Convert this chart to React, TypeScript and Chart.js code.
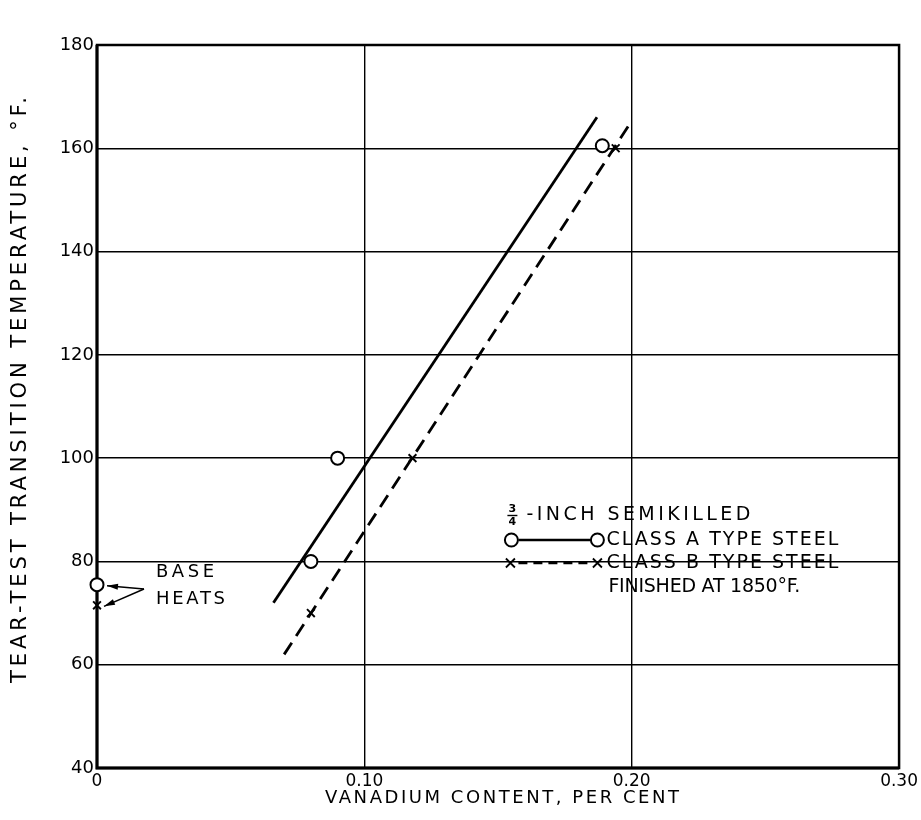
import React, { useEffect, useRef } from 'react';
import { Chart, registerables } from 'chart.js';
Chart.register(...registerables);

// ---- data ----
const classAX = [0, 0.08, 0.09, 0.189];
const classAY = [75.5, 80, 100, 160.5];
const classBX = [0, 0.08, 0.118, 0.194];
const classBY = [71.5, 70, 100, 160];
const fitAX = [0.066, 0.187];
const fitAY = [72, 166];
const fitBX = [0.07, 0.199];
const fitBY = [62, 164.5];
const xTickValues = [0, 0.1, 0.2, 0.3];
const xTickLabels = ['0', '0.10', '0.20', '0.30'];
const yTickValues = [40, 60, 80, 100, 120, 140, 160, 180];

const xTitle = 'VANADIUM CONTENT, PER CENT';
const yTitle = 'TEAR-TEST TRANSITION TEMPERATURE, °F.';
const legendHead = '-INCH SEMIKILLED';
const legendA = 'CLASS A TYPE STEEL';
const legendB = 'CLASS B TYPE STEEL';
const legendC = 'FINISHED AT 1850°F.';
const baseText = ['BASE', 'HEATS'];

const FONT = '"DejaVu Sans", "Liberation Sans", sans-serif';

const pts = (xs: number[], ys: number[]) => xs.map((x, i) => ({ x, y: ys[i] }));

function spaced(ctx: CanvasRenderingContext2D, text: string, x: number, y: number, size: number, target: number | null, align: 'left' | 'center' = 'left') {
  ctx.font = `${size}px ${FONT}`;
  (ctx as any).letterSpacing = '0px';
  const w = ctx.measureText(text).width;
  const width = target ?? w;
  const sp = target ? (target - w) / Math.max(1, text.length - 1) : 0;
  (ctx as any).letterSpacing = `${sp}px`;
  ctx.textAlign = 'left';
  ctx.textBaseline = 'middle';
  ctx.fillText(text, align === 'center' ? x - width / 2 : x, y);
  (ctx as any).letterSpacing = '0px';
}

function arrow(ctx: CanvasRenderingContext2D, x1: number, y1: number, x2: number, y2: number) {
  ctx.beginPath();
  ctx.moveTo(x1, y1);
  ctx.lineTo(x2, y2);
  ctx.stroke();
  const a = Math.atan2(y2 - y1, x2 - x1);
  const L = 11, W = 3;
  const bx = x2 - Math.cos(a) * L, by = y2 - Math.sin(a) * L;
  ctx.beginPath();
  ctx.moveTo(x2, y2);
  ctx.lineTo(bx - Math.sin(a) * W, by + Math.cos(a) * W);
  ctx.lineTo(bx + Math.sin(a) * W, by - Math.cos(a) * W);
  ctx.closePath();
  ctx.fill();
}

const framePlugin = {
  id: 'frame',
  beforeDatasetsDraw(chart: any) {
    const { ctx, chartArea: a } = chart;
    ctx.save();
    ctx.strokeStyle = '#000';
    ctx.lineWidth = 2.5;
    ctx.strokeRect(a.left, a.top, a.right - a.left, a.bottom - a.top);
    ctx.lineWidth = 3;
    ctx.beginPath();
    ctx.moveTo(a.left, a.top);
    ctx.lineTo(a.left, a.bottom);
    ctx.lineTo(a.right, a.bottom);
    ctx.stroke();
    ctx.restore();
  },
  afterDraw(chart: any) {
    const { ctx, chartArea: a, scales } = chart;
    const xs = scales.x, ys = scales.y;
    ctx.save();
    ctx.fillStyle = '#000';
    ctx.strokeStyle = '#000';
    // axis titles
    spaced(ctx, xTitle, (a.left + a.right) / 2 + 4, 798, 18, 354, 'center');
    ctx.save();
    ctx.translate(21, 390);
    ctx.rotate(-Math.PI / 2);
    spaced(ctx, yTitle, 0, 0, 21, 586, 'center');
    ctx.restore();

    // legend
    const lx = xs.getPixelForValue(0.155);
    ctx.font = `bold 11px ${FONT}`;
    ctx.textAlign = 'center';
    ctx.textBaseline = 'middle';
    ctx.fillText('3', lx + 1, 509);
    ctx.fillText('4', lx + 1, 522);
    ctx.lineWidth = 1.4;
    ctx.beginPath();
    ctx.moveTo(lx - 4, 515.5);
    ctx.lineTo(lx + 6, 515.5);
    ctx.stroke();
    spaced(ctx, legendHead, lx + 15, 515, 19, 224);

    // sample A
    ctx.lineWidth = 2.6;
    ctx.setLineDash([]);
    ctx.beginPath();
    ctx.moveTo(lx + 7, 540);
    ctx.lineTo(lx + 79, 540);
    ctx.stroke();
    ctx.lineWidth = 2;
    for (const cx of [lx, lx + 86]) {
      ctx.beginPath();
      ctx.arc(cx, 540, 6.5, 0, Math.PI * 2);
      ctx.fillStyle = '#fff';
      ctx.fill();
      ctx.stroke();
    }
    ctx.fillStyle = '#000';
    spaced(ctx, legendA, lx + 95, 540, 19, 232);

    // sample B
    ctx.lineWidth = 2.6;
    ctx.setLineDash([9, 6]);
    ctx.beginPath();
    ctx.moveTo(lx + 7, 563);
    ctx.lineTo(lx + 80, 563);
    ctx.stroke();
    ctx.setLineDash([]);
    ctx.lineWidth = 1.8;
    for (const cx of [lx - 1, lx + 86]) {
      ctx.beginPath();
      ctx.moveTo(cx - 4.5, 558.5);
      ctx.lineTo(cx + 4.5, 567.5);
      ctx.moveTo(cx + 4.5, 558.5);
      ctx.lineTo(cx - 4.5, 567.5);
      ctx.stroke();
    }
    spaced(ctx, legendB, lx + 95, 563, 19, 232);
    spaced(ctx, legendC, lx + 97, 587, 19, 192);

    // base heats annotation
    const p0x = xs.getPixelForValue(0);
    const pA = ys.getPixelForValue(classAY[0]);
    const pB = ys.getPixelForValue(classBY[0]);
    spaced(ctx, baseText[0], p0x + 59, 572, 18, 58);
    spaced(ctx, baseText[1], p0x + 59, 599, 18, 69);
    ctx.lineWidth = 1.5;
    arrow(ctx, p0x + 47, 589, p0x + 10, pA + 1);
    arrow(ctx, p0x + 47, 589, p0x + 7, pB + 1);
    ctx.restore();
  },
};

export default function App() {
  const ref = useRef<HTMLCanvasElement | null>(null);
  useEffect(() => {
    document.body.style.margin = '0';
    const canvas = ref.current!;
    const chart = new Chart(canvas, {
      type: 'scatter',
      data: {
        datasets: [
          {
            label: 'fit A',
            data: pts(fitAX, fitAY),
            showLine: true,
            borderColor: '#000',
            borderWidth: 2.8,
            pointRadius: 0,
          },
          {
            label: 'fit B',
            data: pts(fitBX, fitBY),
            showLine: true,
            borderColor: '#000',
            borderWidth: 2.8,
            borderDash: [14, 8],
            pointRadius: 0,
          },
          {
            label: 'Class A',
            data: pts(classAX, classAY),
            showLine: false,
            pointStyle: 'circle',
            pointRadius: 6.5,
            pointBorderWidth: 2,
            pointBorderColor: '#000',
            pointBackgroundColor: '#fff',
            clip: false as any,
          },
          {
            label: 'Class B',
            data: pts(classBX, classBY),
            showLine: false,
            pointStyle: 'crossRot',
            pointRadius: 5.5,
            pointBorderWidth: 1.9,
            pointBorderColor: '#000',
            clip: false as any,
          },
        ],
      },
      options: {
        responsive: false,
        animation: false,
        devicePixelRatio: 1,
        layout: { padding: { top: 45, right: 21, left: 0, bottom: 0 } },
        plugins: { legend: { display: false }, tooltip: { enabled: false } },
        scales: {
          x: {
            type: 'linear',
            min: 0,
            max: 0.3,
            afterBuildTicks: (s: any) => { s.ticks = xTickValues.map((v) => ({ value: v })); },
            afterFit: (s: any) => { s.height = 52; },
            ticks: {
              color: '#000',
              font: { family: FONT, size: 17 },
              padding: 3,
              maxRotation: 0,
              callback: (v: any, i: number) => xTickLabels[i],
            },
            grid: { color: '#000', lineWidth: 1.4, drawTicks: false },
            border: { display: false },
          },
          y: {
            type: 'linear',
            min: 40,
            max: 180,
            afterBuildTicks: (s: any) => { s.ticks = yTickValues.map((v) => ({ value: v })); },
            afterFit: (s: any) => { s.width = 97; },
            ticks: {
              color: '#000',
              font: { family: FONT, size: 18 },
              padding: 3,
              callback: (v: any) => String(v),
            },
            grid: { color: '#000', lineWidth: 1.4, drawTicks: false },
            border: { display: false },
          },
        },
      },
      plugins: [framePlugin],
    });
    return () => chart.destroy();
  }, []);
  return (
    <div style={{ width: 921, height: 820, background: '#fff' }}>
      <canvas ref={ref} width={921} height={820} style={{ display: 'block' }} />
    </div>
  );
}
